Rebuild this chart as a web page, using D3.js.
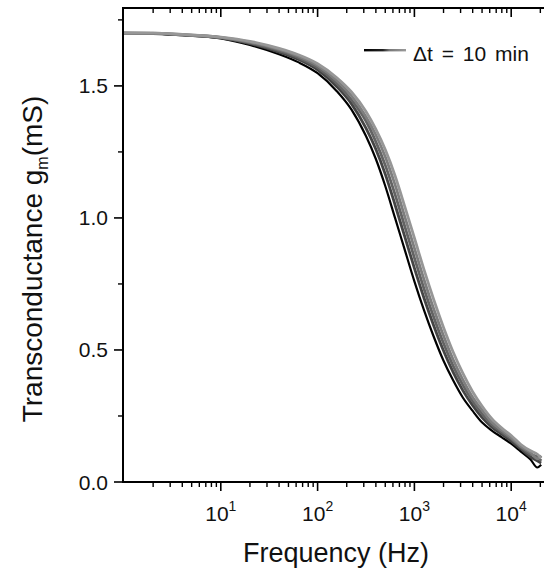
<!DOCTYPE html>
<html><head><meta charset="utf-8">
<script src="https://cdn.jsdelivr.net/npm/d3@7"></script>
<style>
html,body{margin:0;padding:0;background:#fff;}
svg{display:block;font-family:"Liberation Sans",Arial,sans-serif;}
</style></head>
<body><svg id="c" width="544" height="575"></svg>
<script>
// Frequency grid (Hz)
const freqHz = [1, 2, 4, 10, 20, 40, 63, 100, 158, 224, 316, 398, 501, 631, 794, 1000, 1259, 1585, 1995, 2512, 3162, 3981, 5012, 6310, 7943, 10000, 12589, 15849, 18621, 20417];
// Transconductance (mS), successive measurements every 10 min
const gm0 = [1.700,1.697,1.692,1.680,1.655,1.620,1.590,1.548,1.480,1.410,1.310,1.225,1.120,1.000,0.880,0.760,0.650,0.550,0.460,0.385,0.320,0.270,0.225,0.195,0.170,0.145,0.115,0.085,0.055,0.065];
const gm1 = [1.700,1.699,1.693,1.682,1.660,1.628,1.601,1.561,1.497,1.432,1.340,1.262,1.165,1.050,0.930,0.810,0.696,0.592,0.498,0.416,0.347,0.291,0.244,0.208,0.181,0.155,0.125,0.095,0.080,0.072];
const gm2 = [1.700,1.699,1.693,1.683,1.663,1.633,1.607,1.569,1.509,1.447,1.367,1.290,1.199,1.089,0.969,0.849,0.731,0.624,0.526,0.440,0.368,0.307,0.258,0.217,0.189,0.163,0.132,0.105,0.095,0.080];
const gm3 = [1.700,1.700,1.694,1.684,1.666,1.638,1.613,1.577,1.520,1.462,1.383,1.316,1.231,1.126,1.006,0.886,0.766,0.655,0.555,0.464,0.388,0.322,0.272,0.226,0.196,0.168,0.135,0.112,0.088,0.100];
const gm4 = [1.700,1.700,1.695,1.685,1.669,1.642,1.618,1.584,1.531,1.477,1.403,1.337,1.258,1.160,1.044,0.924,0.803,0.690,0.586,0.492,0.412,0.343,0.287,0.240,0.205,0.176,0.142,0.118,0.105,0.090];
const seriesValues = [gm0, gm1, gm2, gm3, gm4];
const seriesColors = ["#000000", "#454545", "#636363", "#7e7e7e", "#979797"];
const yTicks = [0, 0.5, 1.0, 1.5];
const yTickLabels = ["0.0", "0.5", "1.0", "1.5"];
const xTickExps = [1, 2, 3, 4];
const legendText = "\u0394t = 10 min";
const xTitle = "Frequency (Hz)";

const svg = d3.select("#c");
const L = 123, T = 8, B = 482, R = 548;
const x = d3.scaleLog().domain([1, 24000]).range([124, R]);
const y = d3.scaleLinear().domain([0, 1.795]).range([B, T]);

svg.append("defs").append("clipPath").attr("id","clip")
  .append("rect").attr("x",L).attr("y",T).attr("width",R-L).attr("height",B-T);

// curves
const line = d3.line().x(d=>x(d[0])).y(d=>y(d[1])).curve(d3.curveMonotoneX);
const g = svg.append("g").attr("clip-path","url(#clip)");
seriesValues.forEach((vals,i)=>{
  g.append("path").datum(freqHz.map((f,j)=>[f,vals[j]]))
   .attr("d",line).attr("fill","none")
   .attr("stroke",seriesColors[i]).attr("stroke-width", i===0?2.2:2.8)
   .attr("stroke-linejoin","round");
});

// minor/major tick positions for log axis
const minorX = [];
for (let e=0;e<=4;e++) for (let m=2;m<=9;m++){ const v=m*Math.pow(10,e); if(v<=24000) minorX.push(v); }
const majorX = xTickExps.map(e=>Math.pow(10,e));

const ax = svg.append("g").attr("stroke","#000").attr("fill","none");
// bottom axis
ax.append("line").attr("x1",L).attr("x2",R).attr("y1",B).attr("y2",B).attr("stroke-width",2);
majorX.forEach(v=>ax.append("line").attr("x1",x(v)).attr("x2",x(v)).attr("y1",B).attr("y2",B+9).attr("stroke-width",1.6));
minorX.forEach(v=>ax.append("line").attr("x1",x(v)).attr("x2",x(v)).attr("y1",B).attr("y2",B+5).attr("stroke-width",1.4));
// top axis (inward ticks)
ax.append("line").attr("x1",L).attr("x2",R).attr("y1",T).attr("y2",T).attr("stroke-width",2);
majorX.forEach(v=>ax.append("line").attr("x1",x(v)).attr("x2",x(v)).attr("y1",T).attr("y2",T+9).attr("stroke-width",1.6));
minorX.forEach(v=>ax.append("line").attr("x1",x(v)).attr("x2",x(v)).attr("y1",T).attr("y2",T+5).attr("stroke-width",1.4));
// left axis
ax.append("line").attr("x1",L).attr("x2",L).attr("y1",T-1).attr("y2",B+1).attr("stroke-width",2);
yTicks.forEach(v=>ax.append("line").attr("x1",L-9).attr("x2",L).attr("y1",y(v)).attr("y2",y(v)).attr("stroke-width",1.6));
[0.25,0.75,1.25,1.75].forEach(v=>ax.append("line").attr("x1",L-5).attr("x2",L).attr("y1",y(v)).attr("y2",y(v)).attr("stroke-width",1.4));

// y tick labels
yTicks.forEach((v,i)=>svg.append("text").attr("x",108).attr("y",y(v)+7.5)
  .attr("text-anchor","end").attr("font-size",21).attr("fill","#111").text(yTickLabels[i]));
// x tick labels
xTickExps.forEach(e=>{
  const t = svg.append("text").attr("x",x(Math.pow(10,e))).attr("y",521)
    .attr("text-anchor","middle").attr("font-size",21).attr("fill","#111");
  t.append("tspan").text("10");
  t.append("tspan").attr("dy",-10).attr("font-size",14).text(String(e));
});
// axis titles
svg.append("text").attr("x",336).attr("y",562).attr("text-anchor","middle")
  .attr("font-size",27).attr("fill","#111").text(xTitle);
const yt = svg.append("text").attr("transform","translate(42,259) rotate(-90)")
  .attr("text-anchor","middle").attr("font-size",28).attr("fill","#111");
yt.append("tspan").text("Transconductance g");
yt.append("tspan").attr("dy",6).attr("font-size",16).text("m");
yt.append("tspan").attr("dy",-6).text("(mS)");

// legend
const grad = svg.select("defs").append("linearGradient").attr("id","lg")
  .attr("x1","0%").attr("x2","100%");
[[0,"#000"],[0.45,"#222"],[0.6,"#777"],[1,"#9a9a9a"]].forEach(s=>grad.append("stop").attr("offset",s[0]).attr("stop-color",s[1]));
svg.append("rect").attr("x",364).attr("y",49).attr("width",42).attr("height",2.4).attr("fill","url(#lg)");
svg.append("text").attr("x",413).attr("y",61).attr("font-size",21).attr("fill","#111")
  .attr("word-spacing",3).text(legendText);
</script></body></html>
